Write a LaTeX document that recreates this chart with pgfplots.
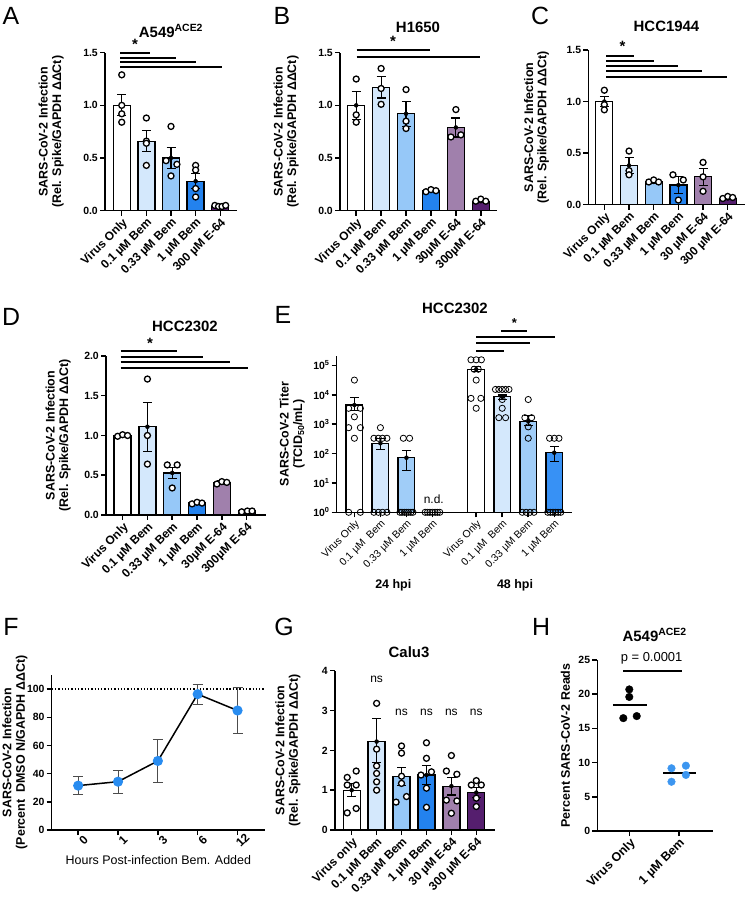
\documentclass[border=0pt]{standalone}
\usepackage{fontspec}
\setmainfont{Liberation Sans}
\usepackage{pgfplots}
\pgfplotsset{compat=1.18}

\definecolor{c1}{RGB}{212,232,252}
\definecolor{c2}{RGB}{150,200,248}
\definecolor{c3}{RGB}{35,130,238}
\definecolor{c4}{RGB}{160,128,172}
\definecolor{c5}{RGB}{85,30,110}
\definecolor{e2}{RGB}{160,205,248}
\definecolor{e3}{RGB}{55,145,245}
\definecolor{fblue}{RGB}{40,140,240}
\definecolor{hblue}{RGB}{60,150,240}

\tikzset{sig/.style={line width=2bp}}
\pgfplotsset{
 prism/.style={
   scale only axis, anchor=south west, clip=false,
   axis lines*=left,
   axis line style={line width=1.5bp, black},
   tick style={line width=1.5bp, black},
   tick align=outside, major tick length=5bp,
   enlargelimits=false,
   yticklabel style={font=\fontsize{10.5}{12}\selectfont\bfseries, inner sep=2bp},
   xticklabel style={font=\fontsize{12}{13}\selectfont\bfseries, rotate=45, anchor=north east, inner sep=1bp},
   ylabel style={font=\fontsize{12.5}{13.5}\selectfont\bfseries, align=center},
   xlabel style={font=\fontsize{12.5}{13.5}\selectfont},
 },
 bar/.style={ybar, bar width=17bp, bar shift=0pt, draw=black, line width=1.3bp, mark=none, fill=#1},
 err/.style={only marks, mark=none, error bars/.cd, y dir=both, y explicit,
   error bar style={line width=1.1bp, black},
   error mark options={rotate=90, mark size=4.5bp, line width=1.1bp, black}},
 pts/.style={only marks, mark=*, mark size=3bp, mark options={fill=white, draw=black, line width=1.3bp}},
}
\begin{document}
\begin{tikzpicture}
\path[use as bounding box] (0,0) rectangle (745bp,898bp);

% ---------------- A ----------------
\begin{axis}[prism, at={(105bp,687.3bp)}, width=132bp, height=158bp,
  xmin=-0.68, xmax=4.68, ymin=0, ymax=1.5,
  xtick={0,...,4}, xticklabels={Virus Only,0.1 µM Bem,0.33 µM Bem,1 µM Bem,300 µM E-64},
  ytick={0,0.5,1,1.5}, yticklabels={0.0,0.5,1.0,1.5},
  ylabel={SARS-CoV-2 Infection\\(Rel. Spike/GAPDH ΔΔCt)}, ylabel shift=14bp]
\addplot[bar=white] coordinates {(0,1.00)};
\addplot[bar=c1] coordinates {(1,0.66)};
\addplot[bar=c2] coordinates {(2,0.50)};
\addplot[bar=c3] coordinates {(3,0.28)};
\addplot[bar=c5] coordinates {(4,0.04)};
\addplot[err] coordinates {(0,1.00)+-(0,0.10) (1,0.66)+-(0,0.10) (2,0.50)+-(0,0.10) (3,0.28)+-(0,0.07) (4,0.04)+-(0,0.005)};
\addplot[pts] coordinates {(0,1.29) (0,1.00) (0,0.92) (0,0.84)
 (1,0.88) (1,0.66) (1,0.64) (1,0.43)
 (2,0.80) (1.8,0.475) (2.24,0.44) (2,0.33)
 (3,0.43) (3,0.386) (3,0.21) (3,0.13)
 (3.78,0.05) (3.93,0.04) (4.07,0.04) (4.22,0.05)};
\draw[sig] (axis cs:-0.07,1.495) -- (axis cs:1.15,1.495);
\draw[sig] (axis cs:-0.07,1.447) -- (axis cs:2.19,1.447);
\draw[sig] (axis cs:-0.07,1.41) -- (axis cs:3.02,1.41);
\draw[sig] (axis cs:-0.07,1.36) -- (axis cs:4.06,1.36);
\node[font=\fontsize{15}{15}\selectfont\bfseries] at (axis cs:0.54,1.58) {*};
\end{axis}

% ---------------- B ----------------
\begin{axis}[prism, at={(340bp,687.3bp)}, width=157bp, height=158bp,
  xmin=-0.65, xmax=5.65, ymin=0, ymax=1.5,
  xtick={0,...,5}, xticklabels={Virus Only,0.1 µM Bem,0.33 µM Bem,1 µM Bem,30µM E-64,300µM E-64},
  ytick={0,0.5,1,1.5}, yticklabels={0.0,0.5,1.0,1.5},
  ylabel={SARS-CoV-2 Infection\\(Rel. Spike/GAPDH ΔΔCt)}, ylabel shift=14bp]
\addplot[bar=white] coordinates {(0,1.00)};
\addplot[bar=c1] coordinates {(1,1.17)};
\addplot[bar=c2] coordinates {(2,0.92)};
\addplot[bar=c3] coordinates {(3,0.19)};
\addplot[bar=c4] coordinates {(4,0.79)};
\addplot[bar=c5] coordinates {(5,0.09)};
\addplot[err] coordinates {(0,1.00)+-(0,0.13) (1,1.17)+-(0,0.10) (2,0.92)+-(0,0.12) (3,0.19)+-(0,0.01) (4,0.79)+-(0,0.09) (5,0.09)+-(0,0.01)};
\addplot[pts] coordinates {(0,1.25) (0,0.91) (0,0.84)
 (1,1.35) (1,1.16) (1,1.01)
 (2,1.15) (2,0.85) (2,0.78)
 (2.8,0.18) (3,0.20) (3.2,0.19)
 (4,0.96) (3.8,0.70) (4.2,0.72)
 (4.8,0.09) (5,0.11) (5.2,0.09)};
\draw[sig] (axis cs:0.02,1.53) -- (axis cs:2.96,1.53);
\draw[sig] (axis cs:0.02,1.46) -- (axis cs:4.97,1.46);
\node[font=\fontsize{15}{15}\selectfont\bfseries] at (axis cs:1.48,1.61) {*};
\end{axis}

% ---------------- C ----------------
\begin{axis}[prism, at={(588.3bp,693.3bp)}, width=156.7bp, height=154.7bp,
  xmin=-0.65, xmax=5.7, ymin=0, ymax=1.5,
  xtick={0,...,5}, xticklabels={Virus Only,0.1 µM Bem,0.33 µM Bem,1 µM Bem,30 µM E-64,300 µM E-64},
  ytick={0,0.5,1,1.5}, yticklabels={0.0,0.5,1.0,1.5},
  ylabel={SARS-CoV-2 Infection\\(Rel. Spike/GAPDH ΔΔCt)}, ylabel shift=12bp]
\addplot[bar=white] coordinates {(0,1.00)};
\addplot[bar=c1] coordinates {(1,0.38)};
\addplot[bar=c2] coordinates {(2,0.22)};
\addplot[bar=c3] coordinates {(3,0.19)};
\addplot[bar=c4] coordinates {(4,0.27)};
\addplot[bar=c5] coordinates {(5,0.06)};
\addplot[err] coordinates {(0,1.00)+-(0,0.05) (1,0.38)+-(0,0.08) (2,0.22)+-(0,0.01) (3,0.19)+-(0,0.08) (4,0.27)+-(0,0.08) (5,0.06)+-(0,0.01)};
\addplot[pts] coordinates {(0,1.11) (0,0.97) (0,0.92)
 (1,0.52) (1,0.33) (1,0.29)
 (1.8,0.22) (2,0.24) (2.2,0.22)
 (2.78,0.29) (3.2,0.24) (3,0.045)
 (4,0.41) (4,0.27) (4,0.13)
 (4.8,0.06) (5,0.08) (5.2,0.07)};
\draw[sig] (axis cs:0.07,1.442) -- (axis cs:1.2,1.442);
\draw[sig] (axis cs:0.07,1.394) -- (axis cs:2.02,1.394);
\draw[sig] (axis cs:0.07,1.345) -- (axis cs:2.97,1.345);
\draw[sig] (axis cs:0.07,1.297) -- (axis cs:3.94,1.297);
\draw[sig] (axis cs:0.07,1.236) -- (axis cs:4.95,1.236);
\node[font=\fontsize{15}{15}\selectfont\bfseries] at (axis cs:0.74,1.54) {*};
\end{axis}

% ---------------- D ----------------
\begin{axis}[prism, at={(106bp,383bp)}, width=160bp, height=159bp,
  xmin=-0.67, xmax=5.78, ymin=0, ymax=2,
  xtick={0,...,5}, xticklabels={Virus Only,0.1 µM Bem,0.33 µM Bem,1 µM Bem,30µM E-64,300µM E-64},
  ytick={0,0.5,1,1.5,2}, yticklabels={0.0,0.5,1.0,1.5,2.0},
  ylabel={SARS-CoV-2 Infection\\(Rel. Spike/GAPDH ΔΔCt)}, ylabel shift=8bp]
\addplot[bar=white] coordinates {(0,1.00)};
\addplot[bar=c1] coordinates {(1,1.11)};
\addplot[bar=c2] coordinates {(2,0.53)};
\addplot[bar=c3] coordinates {(3,0.15)};
\addplot[bar=c4] coordinates {(4,0.41)};
\addplot[bar=c5] coordinates {(5,0.05)};
\addplot[err] coordinates {(0,1.00)+-(0,0.01) (1,1.11)+-(0,0.31) (2,0.53)+-(0,0.07) (3,0.15)+-(0,0.01) (4,0.41)+-(0,0.02) (5,0.05)+-(0,0.005)};
\addplot[pts] coordinates {(-0.2,0.99) (0,1.01) (0.2,1.00)
 (1,1.71) (1,1.00) (1,0.64)
 (1.8,0.63) (2.2,0.63) (2,0.34)
 (2.8,0.14) (3,0.16) (3.2,0.15)
 (3.8,0.39) (4,0.42) (4.2,0.41)
 (4.8,0.04) (5.03,0.05) (5.22,0.05)};
\draw[sig] (axis cs:-0.08,2.067) -- (axis cs:2.18,2.067);
\draw[sig] (axis cs:-0.08,1.99) -- (axis cs:3.25,1.99);
\draw[sig] (axis cs:-0.08,1.925) -- (axis cs:4.33,1.925);
\draw[sig] (axis cs:-0.08,1.853) -- (axis cs:5.06,1.853);
\node[font=\fontsize{15}{15}\selectfont\bfseries] at (axis cs:1.10,2.16) {*};
\end{axis}

% ---------------- E ----------------
\begin{axis}[prism, clip=true, at={(336.7bp,385.7bp)}, width=235bp, height=156.3bp,
  ymode=log, ymin=1, ymax=208930, yminorticks=false,
  xmin=-0.68, xmax=8.35,
  xtick={0,1,2,3,4.68,5.68,6.68,7.68},
  xticklabels={Virus Only,0.1 µM\ \ Bem,0.33 µM Bem,1 µM Bem,Virus Only,0.1 µM\ \ Bem,0.33 µM Bem,1 µM Bem},
  xticklabel style={font=\fontsize{10.5}{12}\selectfont\mdseries},
  ytick={1,10,100,1000,10000,100000},
  yticklabels={10\textsuperscript{0},10\textsuperscript{1},10\textsuperscript{2},10\textsuperscript{3},10\textsuperscript{4},10\textsuperscript{5}},
  ylabel={SARS-CoV-2 Titer\\(TCID\textsubscript{50}/mL)}, ylabel shift=3bp]
\addplot[bar=white, bar width=16.7bp] coordinates {(0,4470)};
\addplot[bar=c1, bar width=16.7bp] coordinates {(1,224)};
\addplot[bar=e2, bar width=16.7bp] coordinates {(2,72)};
\addplot[bar=white, bar width=16.7bp] coordinates {(4.68,74000)};
\addplot[bar=c1, bar width=16.7bp] coordinates {(5.68,8500)};
\addplot[bar=e2, bar width=16.7bp] coordinates {(6.68,1260)};
\addplot[bar=e3, bar width=16.7bp] coordinates {(7.68,107)};
\addplot[err] coordinates {(0,4470) += (0,3630) -= (0,1470)
 (1,224) += (0,107) -= (0,83)
 (2,72) += (0,51) -= (0,46)
 (4.68,74000) += (0,15000) -= (0,10000)
 (5.68,8500) += (0,1300) -= (0,1600)
 (6.68,1260) += (0,650) -= (0,370)
 (7.68,107) += (0,63) -= (0,52)};
\addplot[only marks, mark=o, mark size=3.1bp, mark options={draw=black, line width=0.8bp}] coordinates {
 (0,31623) (-0.22,3467) (0.23,3467) (0,1778) (-0.22,759) (0.23,759) (0,331) (-0.22,1) (0.23,1)
 (1,759) (0.75,331) (0.92,331) (1.08,331) (1.25,331) (0.75,1) (0.92,1) (1.08,1) (1.25,1)
 (1.88,331) (2.12,331) (1.75,1) (1.83,1) (1.92,1) (2.0,1) (2.08,1) (2.17,1) (2.25,1)
 (2.72,1) (2.81,1) (2.9,1) (3.0,1) (3.1,1) (3.19,1) (3.28,1)
 (4.48,155000) (4.68,155000) (4.88,155000) (4.6,74000) (4.76,74000) (4.68,31600) (4.48,7560) (4.86,7560) (4.68,3470)
 (5.42,15200) (5.55,15200) (5.68,15200) (5.81,15200) (5.94,15200) (5.68,6900) (5.68,3470) (5.55,1660) (5.81,1660)
 (6.68,6900) (6.55,1660) (6.81,1660) (6.68,810) (6.68,331) (6.45,1) (6.6,1) (6.75,1) (6.9,1)
 (7.5,331) (7.68,331) (7.86,331) (7.43,1) (7.53,1) (7.63,1) (7.73,1) (7.83,1) (7.93,1)};
\end{axis}
\begin{axis}[scale only axis, anchor=south west, hide axis, clip=false,
  at={(336.7bp,385.7bp)}, width=235bp, height=156.3bp,
  ymode=log, ymin=1, ymax=208930, xmin=-0.68, xmax=8.35]
\draw[sig] (axis cs:4.68,316228) -- (axis cs:5.73,316228);
\draw[sig] (axis cs:4.68,562341) -- (axis cs:6.75,562341);
\draw[sig] (axis cs:4.68,891251) -- (axis cs:7.72,891251);
\draw[sig] (axis cs:5.63,1513561) -- (axis cs:6.65,1513561);
\node[font=\fontsize{13}{13}\selectfont\bfseries] at (axis cs:6.15,2700000) {*};
\node[font=\fontsize{12}{12}\selectfont] at (axis cs:3.05,2.7) {n.d.};
\end{axis}

% ---------------- F ----------------
\begin{axis}[prism, at={(51.7bp,68bp)}, width=213.3bp, height=155bp,
  xmin=-0.665, xmax=4.69, ymin=0, ymax=110,
  xtick={0,...,4}, xticklabels={0,1,3,6,12},
  xticklabel style={rotate=0, anchor=north, inner sep=3bp},
  ytick={0,20,40,60,80,100}, yticklabels={0,20,40,60,80,100},
  ylabel={SARS-CoV-2 Infection\\(Percent\ \ DMSO N/GAPDH ΔΔCt)}, ylabel shift=-6bp,
  xlabel={Hours Post-infection Bem. Added}]
\draw[dotted, line width=1.3bp] (axis cs:-0.665,100) -- (axis cs:4.69,100);
\addplot[only marks, mark=none, error bars/.cd, y dir=both, y explicit,
   error bar style={line width=1bp, black!70},
   error mark options={rotate=90, mark size=5bp, line width=1bp, black!70}]
 coordinates {(0,31.5) += (0,6.8) -= (0,6.5) (1,34.3) += (0,7.9) -= (0,8.2) (2,49) += (0,15) -= (0,15) (3,96.4) += (0,6.6) -= (0,7.1) (4,84.8) += (0,16.2) -= (0,16.1)};
\addplot[black, line width=1.5bp, mark=*, mark size=4.3bp, mark options={fill=fblue, draw=fblue}]
 coordinates {(0,31.5) (1,34.3) (2,49) (3,96.4) (4,84.8)};
\end{axis}

% ---------------- G ----------------
\begin{axis}[prism, at={(335bp,68bp)}, width=160bp, height=159.3bp,
  xmin=-0.67, xmax=5.75, ymin=0, ymax=4,
  xtick={0,...,5}, xticklabels={Virus only,0.1 µM Bem,0.33 µM Bem,1 µM Bem,30 µM E-64,300 µM E-64},
  ytick={0,1,2,3,4}, yticklabels={0,1,2,3,4},
  ylabel={SARS-CoV-2 Infection\\(Rel. Spike/GAPDH ΔΔCt)}, ylabel shift=16bp]
\addplot[bar=white] coordinates {(0,1.00)};
\addplot[bar=c1] coordinates {(1,2.22)};
\addplot[bar=c2] coordinates {(2,1.34)};
\addplot[bar=c3] coordinates {(3,1.38)};
\addplot[bar=c4] coordinates {(4,1.10)};
\addplot[bar=c5] coordinates {(5,0.94)};
\addplot[err] coordinates {(0,1.00)+-(0,0.165) (1,2.22) += (0,0.57) -= (0,0.53) (2,1.34)+-(0,0.22) (3,1.38)+-(0,0.23) (4,1.10)+-(0,0.22) (5,0.94)+-(0,0.13)};
\addplot[pts] coordinates {(-0.18,1.32) (0.18,1.48) (-0.18,1.13) (0.18,1.13) (-0.18,0.43) (0.18,0.54)
 (1,3.18) (1,2.03) (1,1.61) (1,1.42) (1,1.21) (1,1.00)
 (2,2.11) (2,1.93) (2,1.35) (2,1.17) (1.78,0.70) (2.2,0.84)
 (3,2.19) (3,1.80) (2.78,1.38) (3.2,1.46) (3,1.05) (3,0.57)
 (4,1.87) (3.8,1.48) (4.22,1.40) (3.8,0.75) (4.22,0.73) (4,0.42)
 (4.8,1.13) (5.2,1.13) (5,1.24) (5,0.80) (5,0.59)};
\node[font=\fontsize{12}{12}\selectfont] at (axis cs:1,3.79) {ns};
\node[font=\fontsize{12}{12}\selectfont] at (axis cs:2,2.96) {ns};
\node[font=\fontsize{12}{12}\selectfont] at (axis cs:3,2.96) {ns};
\node[font=\fontsize{12}{12}\selectfont] at (axis cs:4,2.96) {ns};
\node[font=\fontsize{12}{12}\selectfont] at (axis cs:5,2.96) {ns};
\end{axis}

% ---------------- H ----------------
\begin{axis}[prism, at={(597.3bp,67bp)}, width=115.4bp, height=171bp,
  xmin=-0.644, xmax=1.68, ymin=0, ymax=25,
  xtick={0,1}, xticklabels={Virus Only,1 µM Bem},
  xticklabel style={font=\fontsize{12.5}{13}\selectfont\bfseries},
  ytick={0,5,10,15,20,25}, yticklabels={0,5,10,15,20,25},
  ylabel={Percent SARS-CoV-2 Reads}, ylabel shift=3bp]
\addplot[only marks, mark=*, mark size=3.8bp, mark options={fill=black, draw=black}]
 coordinates {(0,20.7) (0,19.6) (-0.12,16.5) (0.15,16.8)};
\addplot[only marks, mark=*, mark size=3.8bp, mark options={fill=hblue, draw=hblue}]
 coordinates {(0.85,9.17) (1.14,9.55) (0.85,7.2) (1.14,8.2)};
\addplot[line width=1.6bp, black, mark=none] coordinates {(-0.33,18.4) (0.35,18.4)};
\addplot[line width=1.6bp, black, mark=none] coordinates {(0.68,8.5) (1.34,8.5)};
\draw[line width=2.5bp] (axis cs:-0.12,23.4) -- (axis cs:1.07,23.4);
\node[font=\fontsize{13}{13}\selectfont] at (axis cs:0.45,25.2) {p = 0.0001};
\end{axis}

% ---------------- panel letters & titles ----------------
\foreach \L/\x/\y in {A/11/882, B/282/882, C/540/882, D/11/581, E/283/583, F/11/271, G/284/271, H/541/271}
  \node[font=\fontsize{25}{25}\selectfont] at (\x bp,\y bp) {\L};
\node[font=\fontsize{15}{15}\selectfont\bfseries] at (171bp,867bp) {A549\textsuperscript{ACE2}};
\node[font=\fontsize{15}{15}\selectfont\bfseries] at (418bp,871bp) {H1650};
\node[font=\fontsize{15}{15}\selectfont\bfseries] at (666.5bp,872bp) {HCC1944};
\node[font=\fontsize{15}{15}\selectfont\bfseries] at (185bp,572bp) {HCC2302};
\node[font=\fontsize{15}{15}\selectfont\bfseries] at (455bp,590bp) {HCC2302};
\node[font=\fontsize{15}{15}\selectfont\bfseries] at (409bp,245.5bp) {Calu3};
\node[font=\fontsize{15}{15}\selectfont\bfseries] at (654.7bp,263bp) {A549\textsuperscript{ACE2}};
\node[font=\fontsize{12.5}{12.5}\selectfont\bfseries] at (393.3bp,313bp) {24 hpi};
\node[font=\fontsize{12.5}{12.5}\selectfont\bfseries] at (515bp,313bp) {48 hpi};
\end{tikzpicture}
\end{document}
